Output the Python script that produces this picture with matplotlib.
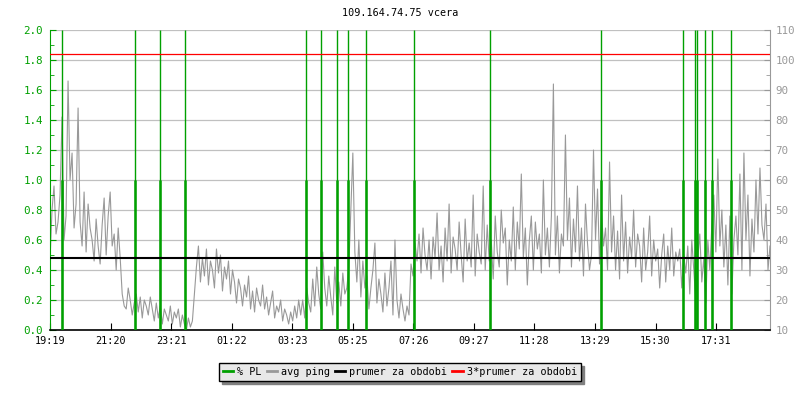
import numpy as np
import matplotlib
matplotlib.use("Agg")
import matplotlib.pyplot as plt
from matplotlib.lines import Line2D
from matplotlib.transforms import blended_transform_factory

plt.rcParams["font.family"] = ["DejaVu Sans Mono"]
FS = 7.3

title = "109.164.74.75 vcera"

# avg ping [ms], one value every 4 minutes, starting 19:19
ping_evening = [33, 50, 58, 42, 46, 55, 81, 40, 48, 93, 60, 69, 44, 52, 84, 46, 38, 56,
                36, 52, 44, 40, 33, 47, 38, 32, 45, 54, 35, 48, 56, 38, 42, 30, 44, 34,
                22, 18, 17, 24, 20, 15, 19, 22, 16, 21, 14, 20, 18, 15, 21, 17, 13, 19,
                14, 18, 12, 17, 15, 13, 18, 12, 16, 14, 17, 11, 15, 12, 10, 14, 11, 13]
ping_night = [22, 31, 38, 26, 34, 28, 37, 25, 33, 30, 24, 37, 29, 35, 23, 31, 27, 33,
              22, 30, 26, 19, 27, 24, 18, 25, 21, 28, 17, 23, 16, 24, 20, 18, 25, 17,
              21, 15, 19, 23, 14, 18, 16, 20, 13, 17, 15, 12, 16, 13, 18, 14, 20, 15,
              20, 14, 24, 19, 16, 27, 18, 31, 22, 17, 36, 24, 18, 28, 21, 15, 31, 19,
              26, 18, 29, 22, 24, 31, 50, 69, 36, 26, 40, 21, 33, 24, 28, 17, 24, 30,
              39, 19, 27, 22, 16, 29, 18, 24, 33, 15, 40, 20, 14, 22, 17, 13, 18, 15]
ping_morning = [32, 28, 39, 33, 42, 29, 44, 35, 30, 40, 27, 41, 34, 49, 30, 38, 26, 44,
                33, 52, 29, 41, 37, 30, 46, 35, 26, 47, 33, 39, 31, 55, 28, 42, 36, 32,
                58, 30, 45, 33, 40, 27, 48, 36, 31, 50, 39, 44, 25, 40, 33, 51, 30, 46,
                37, 62, 34, 44, 25, 40, 48, 30, 46, 37, 42, 29, 60, 35, 44, 31, 48, 92]
ping_day = [35, 48, 29, 42, 38, 75, 40, 54, 31, 47, 36, 58, 33, 44, 28, 52, 39, 30,
            35, 70, 40, 57, 32, 49, 38, 44, 30, 66, 36, 48, 30, 43, 27, 55, 33, 46,
            29, 41, 34, 50, 31, 42, 38, 26, 44, 30, 36, 48, 28, 40, 33, 37, 24, 35,
            42, 26, 38, 30, 44, 28, 36, 33, 37, 24, 35, 29, 38, 22, 40, 30, 20, 34,
            42, 26, 34, 19, 40, 30, 45, 55, 36, 67, 38, 50, 31, 45, 25, 48, 22, 40,
            48, 35, 62, 30, 69, 40, 55, 28, 47, 36, 60, 42, 64, 45, 40, 52, 30, 38]

# packet loss events [minutes after 19:19]
pl_minutes = [24, 169, 220, 270, 512, 542, 573, 595, 631, 728, 879,
              1102, 1266, 1290, 1293, 1310, 1323, 1361]

ping_mean = 34.0
xtick_labels = ["19:19", "21:20", "23:21", "01:22", "03:23", "05:25",
                "07:26", "09:27", "11:28", "13:29", "15:30", "17:31"]

GREEN = "#00a000"
GREY = "#999999"
GRID = "#c0c0c0"

ping = np.array(ping_evening + ping_night + ping_morning + ping_day, float)
t = np.linspace(0, 1440, len(ping))

fig = plt.figure(figsize=(8, 4), dpi=100)
ax = fig.add_axes([0.0625, 0.175, 0.9, 0.75])
ax2 = ax.twinx()
ax.set_zorder(ax2.get_zorder() + 1)
ax.patch.set_visible(False)

# ping on right scale
ax2.plot(t, ping, color=GREY, lw=0.8, zorder=2)
ax2.set_ylim(10, 110)
ax2.set_yticks(np.arange(10, 111, 10))
ax2.set_yticks(np.arange(15, 110, 10), minor=True)
ax2.grid(True, axis="y", color=GRID, lw=0.9)
ax2.set_axisbelow(True)
ax2.tick_params(axis="y", which="both", direction="in", colors=GREY,
                labelsize=FS + 0.5, pad=4)
ax2.tick_params(axis="y", which="major", length=4)
ax2.tick_params(axis="y", which="minor", length=3)
for s in ["left", "top", "bottom"]:
    ax2.spines[s].set_visible(False)
ax2.spines["right"].set_color(GREY)

# packet loss on left scale
ax.set_xlim(0, 1440)
ax.set_ylim(0, 2.0)
ax.vlines(pl_minutes, 0, 2.0, color=GREEN, lw=1.0, zorder=3)
ax.vlines(pl_minutes, 0, 1.0, color=GREEN, lw=1.8, zorder=3)

tr = blended_transform_factory(ax.transAxes, ax2.transData)
ax.plot([0, 1], [ping_mean, ping_mean], color="black", lw=1.5,
        transform=tr, zorder=4)
ax.plot([0, 1], [3 * ping_mean, 3 * ping_mean], color="#ff0000", lw=0.9,
        transform=tr, zorder=4)

ax.set_yticks(np.arange(0, 2.01, 0.2))
ax.set_yticklabels(["%.1f" % v for v in np.arange(0, 2.01, 0.2)])
ax.set_yticks(np.arange(0.1, 2.0, 0.2), minor=True)
ax.tick_params(axis="y", which="both", direction="in", colors=GREEN,
               labelsize=FS + 0.5, pad=5)
ax.tick_params(axis="y", which="major", length=4)
ax.tick_params(axis="y", which="minor", length=3)
ax.set_xticks(np.arange(len(xtick_labels)) * 121.1)
ax.set_xticklabels(xtick_labels)
ax.tick_params(axis="x", direction="in", length=5, colors="black",
               labelsize=FS, pad=4)
for s in ["top", "right"]:
    ax.spines[s].set_visible(False)
ax.spines["left"].set_color(GREEN)
ax.spines["bottom"].set_color("black")
ax.spines["bottom"].set_linewidth(1.2)

fig.text(0.5, 1 - 13 / 400, title, ha="center", va="center", fontsize=FS)

handles = [Line2D([], [], color=GREEN, lw=2),
           Line2D([], [], color=GREY, lw=2),
           Line2D([], [], color="black", lw=2),
           Line2D([], [], color="#ff0000", lw=2)]
labels = ["% PL", "avg ping", "prumer za obdobi", "3*prumer za obdobi"]
leg = fig.legend(handles, labels, loc="center", bbox_to_anchor=(0.5, 0.07),
                 ncol=4, fontsize=FS, handlelength=1.0, handletextpad=0.4,
                 columnspacing=0.5, borderpad=0.4, fancybox=False,
                 shadow={"color": "#808080", "alpha": 1})
leg.get_frame().set_facecolor("#e8e8e8")
leg.get_frame().set_edgecolor("black")
leg.get_frame().set_alpha(1)

fig.savefig("out.png", dpi=100)
